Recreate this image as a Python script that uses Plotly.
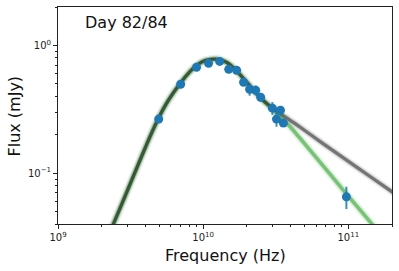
import plotly.graph_objects as go
import math

# ---- data ----
obs_freq = [4.94e9, 7.0e9, 9.0e9, 1.09e10, 1.30e10, 1.50e10, 1.70e10, 1.90e10,
            2.09e10, 2.30e10, 2.49e10, 3.00e10, 3.20e10, 3.41e10, 3.57e10, 9.70e10]
obs_flux = [0.265, 0.497, 0.674, 0.724, 0.750, 0.650, 0.640, 0.515,
            0.454, 0.446, 0.393, 0.323, 0.265, 0.311, 0.247, 0.0653]
obs_err = [0.010, 0.012, 0.015, 0.015, 0.015, 0.015, 0.015, 0.015,
           0.050, 0.040, 0.030, 0.037, 0.034, 0.025, 0.015, 0.013]

green_freq = [2.207e9, 2.427e9, 2.888e9, 3.491e9, 4.090e9, 4.569e9, 5.024e9, 5.525e9,
              6.172e9, 7.004e9, 7.701e9, 8.472e9, 9.313e9, 1.040e10, 1.162e10, 1.299e10,
              1.451e10, 1.646e10, 2.055e10, 2.564e10, 3.20e10, 3.93e10, 6.32e10,
              9.69e10, 1.439e11, 1.77e11]
green_flux = [0.0315, 0.0408, 0.0654, 0.110, 0.169, 0.225, 0.282, 0.344,
              0.419, 0.510, 0.584, 0.656, 0.717, 0.764, 0.781, 0.775,
              0.737, 0.656, 0.497, 0.376, 0.295, 0.234, 0.1236,
              0.0690, 0.0406, 0.0308]

gray_freq = [2.207e9, 2.427e9, 2.888e9, 3.491e9, 4.090e9, 4.569e9, 5.024e9, 5.525e9,
             6.172e9, 7.004e9, 7.701e9, 8.472e9, 9.313e9, 1.040e10, 1.162e10, 1.299e10,
             1.451e10, 1.646e10, 2.055e10, 2.564e10, 3.20e10, 4.40e10, 6.62e10,
             1.135e11, 1.98e11, 2.24e11]
gray_flux = [0.0315, 0.0408, 0.0654, 0.110, 0.169, 0.225, 0.282, 0.344,
             0.419, 0.510, 0.584, 0.656, 0.717, 0.764, 0.781, 0.775,
             0.737, 0.656, 0.497, 0.376, 0.308, 0.240, 0.172,
             0.112, 0.0721, 0.0654]

x_major = [1e9, 1e10, 1e11]
x_major_text = ["10<sup>9</sup>", "10<sup>10</sup>", "10<sup>11</sup>"]
y_major = [0.1, 1.0]
y_major_text = ["10<sup>\u22121</sup>", "10<sup>0</sup>"]
x_minor = [m * 10 ** e for e in (9, 10) for m in range(2, 10)] + [2e11]
y_minor = [m * 0.01 for m in range(4, 10)] + [m * 0.1 for m in range(2, 10)] + [2.0]

label_title = "Day 82/84"
x_title = "Frequency (Hz)"
y_title = "Flux (mJy)"

fig = go.Figure()

# green band (blurred look by stacked widths)
for w, op in [(9, 0.06), (6, 0.15), (3.5, 0.55)]:
    fig.add_trace(go.Scatter(x=green_freq, y=green_flux, mode="lines",
                             line=dict(color="#2ca02c", width=w, shape="spline", smoothing=0.8),
                             opacity=op, hoverinfo="skip", showlegend=False))
# gray band
for w, op in [(8, 0.05), (5.5, 0.12), (3.2, 0.45)]:
    fig.add_trace(go.Scatter(x=gray_freq, y=gray_flux, mode="lines",
                             line=dict(color="#000000", width=w, shape="spline", smoothing=0.8),
                             opacity=op, hoverinfo="skip", showlegend=False))

fig.add_trace(go.Scatter(
    x=obs_freq, y=obs_flux, mode="markers",
    marker=dict(color="#1f77b4", size=9),
    error_y=dict(type="data", array=obs_err, visible=True, color="rgba(31,119,180,0.85)",
                 thickness=2, width=0),
    showlegend=False))

font = "DejaVu Sans, Verdana, sans-serif"
axis_common = dict(type="log", showgrid=False, zeroline=False, showline=True,
                   linecolor="#222222", linewidth=1, mirror=True,
                   ticks="outside", ticklen=4, tickwidth=1, tickcolor="#222222",
                   tickfont=dict(family=font, size=10, color="#222222"))

fig.update_xaxes(**axis_common, range=[9, math.log10(2e11)],
                 tickmode="array", tickvals=x_major, ticktext=x_major_text,
                 minor=dict(tickmode="array", tickvals=x_minor, ticks="outside",
                            ticklen=2, tickcolor="#222222", showgrid=False))
fig.update_yaxes(**axis_common, range=[math.log10(0.04), math.log10(2)],
                 tickmode="array", tickvals=y_major, ticktext=y_major_text,
                 minor=dict(tickmode="array", tickvals=y_minor, ticks="outside",
                            ticklen=2, tickcolor="#222222", showgrid=False))

W, H = 399, 271
L, R, T, B = 58, 7, 7, 47
pw, ph = W - L - R, H - T - B

def px_x(px):
    return (px - L) / pw

def px_y(py):
    return (H - B - py) / ph

fig.add_annotation(x=px_x(83), y=px_y(22.5), xref="paper", yref="paper",
                   text=label_title, showarrow=False, xanchor="left", yanchor="middle",
                   font=dict(family=font, size=16, color="#111111"))
fig.add_annotation(x=px_x(225), y=px_y(255), xref="paper", yref="paper",
                   text=x_title, showarrow=False, xanchor="center", yanchor="middle",
                   font=dict(family=font, size=16, color="#111111"))
fig.add_annotation(x=px_x(14), y=px_y(115.5), xref="paper", yref="paper",
                   text=y_title, showarrow=False, xanchor="center", yanchor="middle",
                   textangle=-90, font=dict(family=font, size=16, color="#111111"))

fig.update_layout(width=W, height=H, margin=dict(l=L, r=R, t=T, b=B),
                  paper_bgcolor="white", plot_bgcolor="white",
                  font=dict(family=font))

fig.write_html("out.html", config={"displayModeBar": False, "staticPlot": True},
               post_script="document.body.style.margin='0';document.body.style.padding='0';")
